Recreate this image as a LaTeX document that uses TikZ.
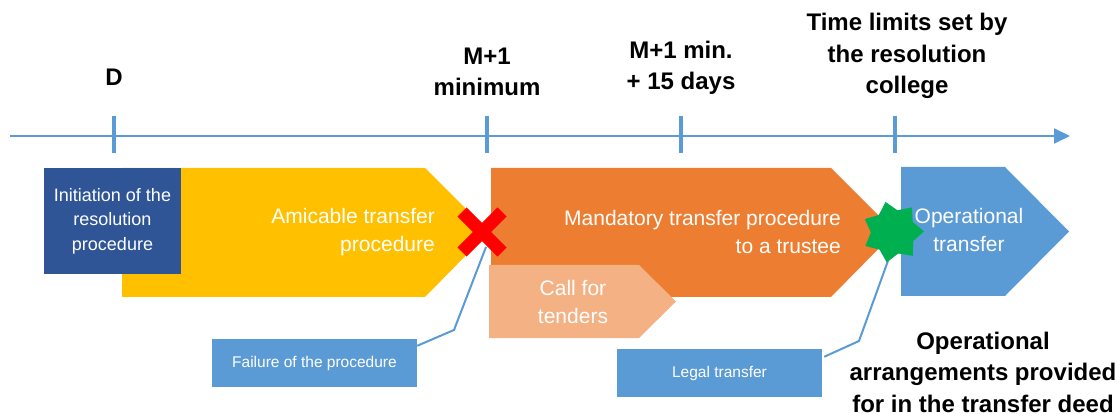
\documentclass[tikz,border=0pt]{standalone}
\usepackage{fontspec}
\setmainfont{Liberation Sans}
\usetikzlibrary{arrows.meta,shapes.geometric}
\definecolor{tlblue}{HTML}{5B9BD5}
\definecolor{darkblue}{HTML}{2F5597}
\definecolor{ambyellow}{HTML}{FFC000}
\definecolor{mandorange}{HTML}{ED7D31}
\definecolor{lightorange}{HTML}{F4B183}
\definecolor{xred}{HTML}{FF0000}
\definecolor{stargreen}{HTML}{00B050}
\tikzset{
  heading/.style={font=\fontsize{24}{31.5}\selectfont\bfseries, align=center, inner sep=0pt, text=black},
  bigtext/.style={font=\fontsize{21}{28.5}\selectfont, text=white, inner sep=0pt},
  calloutbox/.style={fill=tlblue, draw=none, minimum width=205pt, minimum height=48pt, inner sep=0pt, text=white, font=\fontsize{15.5}{18}\selectfont},
  conn/.style={draw=tlblue, line width=2pt},
  tick/.style={draw=tlblue, line width=3.5pt},
}
\begin{document}
\begin{tikzpicture}[x=1pt,y=-1pt]
\useasboundingbox (0,0) rectangle (1120,414);
% timeline
\coordinate (tlstart) at (10,136);
\coordinate (tlend) at (1070,136);
\draw[tlblue, line width=2pt, -{Triangle[length=16pt,width=15pt]}] (tlstart) -- (tlend);
\foreach \x/\n in {114/D,487/M,681/MM,895/T}{
  \coordinate (tt\n) at (\x,116);
  \coordinate (tb\n) at (\x,153);
  \draw[tick] (tt\n) -- (tb\n);
}
% headings
\node[heading] (hD) at (114,77) {D};
\node[heading] (hM) at (487,72) {M+1\\minimum};
\node[heading] (hMM) at (681,68) {M+1 min.\\+ 15 days};
\node[heading] (hT) at (907,56) {Time limits set by\\the resolution\\college};
% amicable pentagon
\fill[ambyellow] (122,168) -- (425,168) -- (489,232) -- (425,297) -- (122,297) -- cycle;
\node[bigtext, align=right, anchor=east] (amic) at (435,232) {Amicable transfer\\procedure};
% initiation box
\node[fill=darkblue, minimum width=137pt, minimum height=106pt, inner sep=0pt, text=white, align=center, font=\fontsize{18}{24.5}\selectfont] (init) at (112.5,221) {Initiation of the\\resolution\\procedure};
% mandatory pentagon
\fill[mandorange] (491,168) -- (831,168) -- (895,232) -- (831,297) -- (491,297) -- cycle;
\node[bigtext, align=right, anchor=east] (mand) at (841,232) {Mandatory transfer procedure\\to a trustee};
% call for tenders
\fill[lightorange] (489,265) -- (639,265) -- (676,301.5) -- (639,338) -- (489,338) -- cycle;
\node[bigtext, align=center] (call) at (573,302) {Call for\\tenders};
% operational pentagon
\fill[tlblue] (901,167) -- (1005,167) -- (1069,231.5) -- (1005,296) -- (901,296) -- cycle;
\node[bigtext, align=center] (oper) at (969,230) {Operational\\transfer};
% callouts
\node[calloutbox] (fail) at (314.5,363) {Failure of the procedure};
\node[calloutbox] (legal) at (719.5,373) {Legal transfer};
\coordinate (xc) at (482,232);
\coordinate (xlow) at (486,247);
\coordinate (failbend) at (454,330);
\coordinate (legalbend) at (859,341);
\coordinate (starlow) at (889,258);
\draw[conn] ([yshift=-7pt]fail.north east) -- (failbend) -- (xlow);
\draw[conn] ([yshift=-8pt,xshift=2pt]legal.north east) -- (legalbend) -- (starlow);
% red cross
\draw[xred, line width=13pt, line cap=butt] ([shift={(-20,-20)}]xc) -- ([shift={(20,20)}]xc);
\draw[xred, line width=13pt, line cap=butt] ([shift={(-20,20)}]xc) -- ([shift={(20,-20)}]xc);
% green star
\node[star, star points=7, star point ratio=1.4, shape border rotate=14, fill=stargreen, minimum size=62pt, inner sep=0pt] (star) at (893,232) {};
% bottom text
\node[heading] (arr) at (983,372) {Operational\\arrangements provided\\for in the transfer deed};
\end{tikzpicture}
\end{document}
